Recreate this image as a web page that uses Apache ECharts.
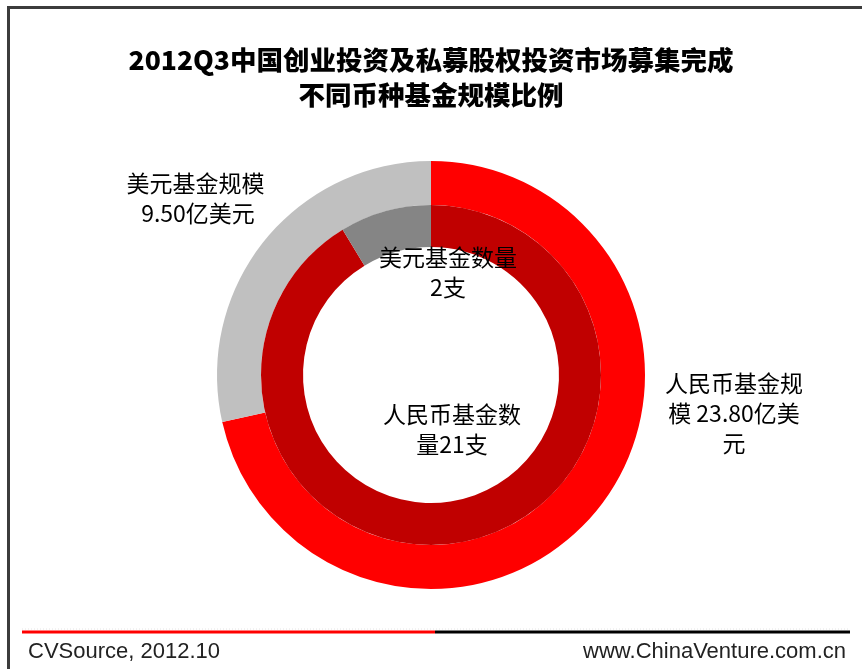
<!DOCTYPE html>
<html>
<head>
<meta charset="utf-8">
<script src="https://cdn.jsdelivr.net/npm/echarts@6/dist/echarts.min.js"></script>
<style>
html,body{margin:0;padding:0;background:#fff;}
#chart{width:862px;height:669px;}
</style>
</head>
<body>
<div id="chart"></div>
<script>
// ---- data ----
var titleLines = ['2012Q3中国创业投资及私募股权投资市场募集完成', '不同币种基金规模比例'];
var outerNames = ['人民币基金规模', '美元基金规模'];
var outerValues = [23.80, 9.50];
var outerUnit = '亿美元';
var innerNames = ['人民币基金数量', '美元基金数量'];
var innerValues = [21, 2];
var innerUnit = '支';
var sourceText = 'CVSource, 2012.10';
var siteText = 'www.ChinaVenture.com.cn';

// ---- layout / style ----
var CX = 431, CY = 375;
var outerColors = ['#FF0000', '#C0C0C0'];
var innerColors = ['#C00000', '#858585'];
var outerLabelPos = [[734, 413], [198, 198]];
var innerLabelPos = [[452, 429], [448, 272]];
var labelFont = '"Noto Sans CJK SC", "SimSun", sans-serif';

var chart = echarts.init(document.getElementById('chart'), null, {renderer: 'canvas'});

function labelStyle() {
  return {
    show: true,
    position: 'inside',
    color: '#000',
    fontSize: 23,
    fontFamily: labelFont,
    lineHeight: 30,
    width: 145,
    overflow: 'breakAll',
    align: 'center'
  };
}

var option = {
  backgroundColor: '#fff',
  animation: false,
  title: {
    text: titleLines.join('\n'),
    left: 'center',
    top: 37,
    textStyle: {
      fontFamily: '"Noto Sans CJK SC", sans-serif',
      fontWeight: 900,
      fontSize: 26.5,
      lineHeight: 35,
      color: '#000'
    }
  },
  series: [
    {
      type: 'pie',
      name: 'outer',
      center: [CX, CY],
      radius: [170, 214],
      startAngle: 90,
      clockwise: true,
      silent: true,
      label: Object.assign(labelStyle(), {
        formatter: function (p) { return p.name + ' ' + p.value.toFixed(2) + outerUnit; }
      }),
      labelLine: {show: false},
      labelLayout: function (p) {
        var pos = outerLabelPos[p.dataIndex];
        return {x: pos[0], y: pos[1], align: 'center', verticalAlign: 'middle'};
      },
      itemStyle: {borderWidth: 0},
      data: outerNames.map(function (n, i) {
        return {name: n, value: outerValues[i], itemStyle: {color: outerColors[i]}};
      })
    },
    {
      type: 'pie',
      name: 'inner',
      center: [CX, CY],
      radius: [128, 170],
      startAngle: 90,
      clockwise: true,
      silent: true,
      label: Object.assign(labelStyle(), {
        formatter: function (p) { return p.name + p.value + innerUnit; }
      }),
      labelLine: {show: false},
      labelLayout: function (p) {
        var pos = innerLabelPos[p.dataIndex];
        return {x: pos[0], y: pos[1], align: 'center', verticalAlign: 'middle'};
      },
      itemStyle: {borderWidth: 0},
      data: innerNames.map(function (n, i) {
        return {name: n, value: innerValues[i], itemStyle: {color: innerColors[i]}};
      })
    }
  ],
  graphic: [
    {
      type: 'polyline', silent: true,
      shape: {points: [[8.5, 669], [8.5, 7.5], [862, 7.5]]},
      style: {stroke: '#3c3c3c', lineWidth: 3, fill: null}
    },
    {
      type: 'line', silent: true,
      shape: {x1: 22, y1: 629, x2: 850, y2: 629},
      style: {stroke: '#e4e4e4', lineWidth: 1, lineDash: [1, 2]}
    },
    {
      type: 'line', silent: true,
      shape: {x1: 22, y1: 632, x2: 435, y2: 632},
      style: {stroke: '#FF0000', lineWidth: 3}
    },
    {
      type: 'line', silent: true,
      shape: {x1: 435, y1: 632, x2: 850, y2: 632},
      style: {stroke: '#000000', lineWidth: 3}
    },
    {
      type: 'text', silent: true,
      left: 28, top: 641,
      style: {text: sourceText, fontFamily: 'Liberation Sans, Arial, sans-serif', fontSize: 22, fill: '#222'}
    },
    {
      type: 'text', silent: true,
      right: 16, top: 641,
      style: {text: siteText, fontFamily: 'Liberation Sans, Arial, sans-serif', fontSize: 22, fill: '#222'}
    }
  ]
};
chart.setOption(option);
</script>
</body>
</html>
